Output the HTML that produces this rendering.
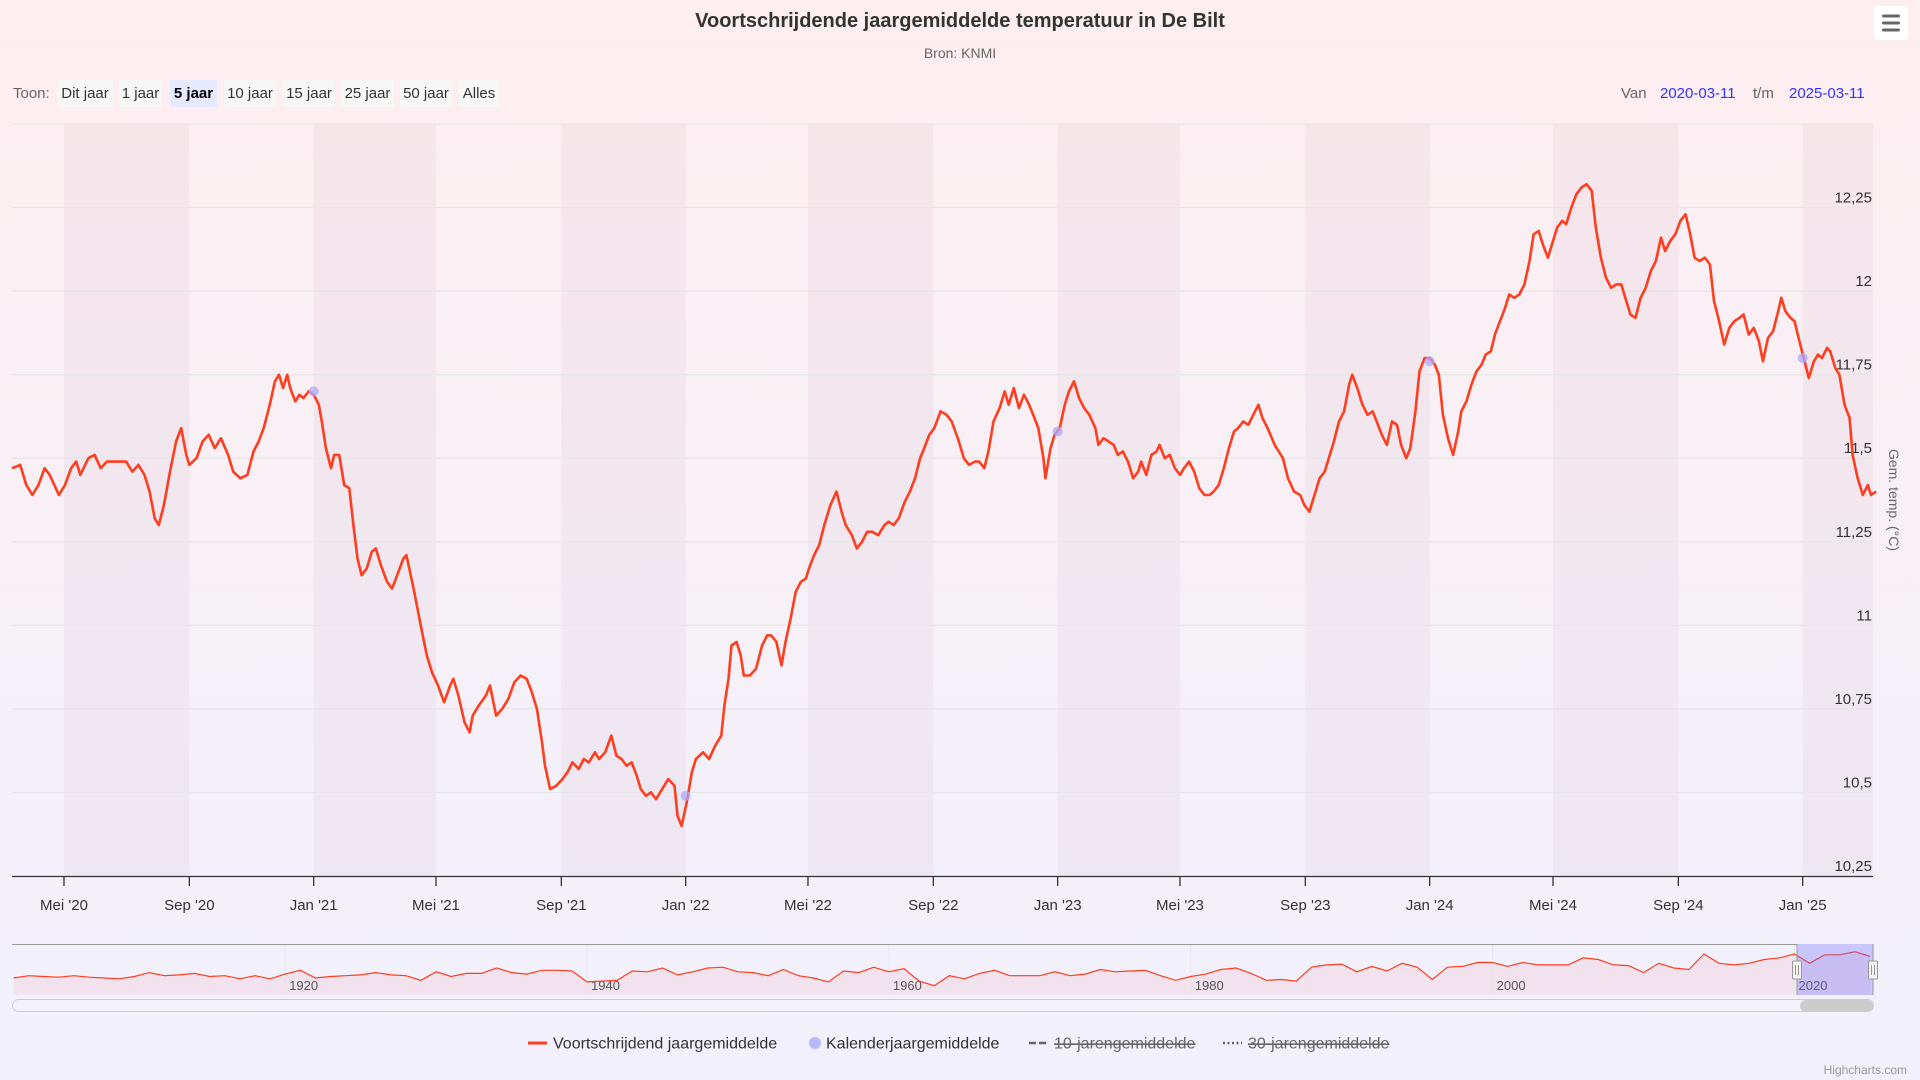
<!DOCTYPE html>
<html><head><meta charset="utf-8"><title>Voortschrijdende jaargemiddelde temperatuur in De Bilt</title>
<style>
html,body{margin:0;padding:0;width:1920px;height:1080px;overflow:hidden;}
body{background:linear-gradient(180deg,#fdeef0 0%,#f7f0f6 50%,#f1f0fc 100%);font-family:"Liberation Sans",sans-serif;}
svg{position:absolute;left:0;top:0;}
</style></head>
<body>
<svg id="chart" width="1920" height="1080" xmlns="http://www.w3.org/2000/svg"></svg>
<script>
// ===== data =====
const startDate = '2020-03-11';
const rollingDays = [0,8,14,20,26,32,37,46,52,58,63,67,75,81,87,93,99,105,112,118,124,130,135,140,144,149,155,161,166,171,174,181,187,193,199,205,212,217,224,231,237,242,247,253,258,262,266,270,273,278,282,286,291,296,301,304,308,313,316,321,326,331,335,339,343,348,353,357,362,368,373,378,384,387,394,401,407,412,418,424,430,433,438,444,449,452,458,465,469,475,481,487,493,499,505,510,515,520,523,528,534,540,545,550,556,561,566,572,576,582,588,593,598,603,608,613,617,622,627,632,638,644,650,653,657,662,667,671,678,684,690,696,699,703,706,711,715,718,724,730,736,741,745,750,755,759,764,769,774,779,782,787,792,797,803,809,814,818,824,829,834,839,844,850,856,860,865,870,876,881,886,891,895,900,905,911,917,922,928,934,939,945,949,954,958,963,969,974,978,983,988,993,998,1002,1007,1012,1014,1019,1023,1028,1033,1037,1042,1047,1052,1057,1063,1066,1071,1076,1081,1085,1090,1095,1100,1105,1108,1113,1118,1123,1126,1131,1136,1141,1146,1150,1155,1160,1165,1170,1175,1179,1184,1189,1194,1199,1203,1208,1213,1218,1223,1227,1232,1239,1247,1252,1258,1264,1268,1273,1278,1283,1288,1292,1297,1302,1307,1312,1315,1320,1325,1330,1335,1339,1344,1349,1354,1359,1363,1368,1372,1377,1381,1386,1391,1396,1400,1404,1409,1414,1419,1422,1427,1432,1437,1442,1446,1451,1455,1460,1465,1469,1474,1479,1484,1489,1493,1498,1502,1507,1511,1516,1521,1525,1530,1535,1540,1545,1550,1554,1559,1564,1569,1574,1579,1583,1588,1593,1598,1603,1608,1613,1618,1622,1627,1632,1637,1642,1646,1651,1656,1661,1666,1670,1675,1680,1685,1690,1695,1699,1704,1709,1714,1718,1723,1728,1733,1736,1740,1745,1749,1753,1758,1763,1768,1772,1776,1781,1784,1789,1793,1798,1803,1806,1811,1816,1821,1824,1829];
const rollingValues = [11.47,11.48,11.42,11.39,11.42,11.47,11.45,11.39,11.42,11.47,11.49,11.45,11.50,11.51,11.47,11.49,11.49,11.49,11.49,11.46,11.48,11.45,11.40,11.32,11.30,11.36,11.46,11.55,11.59,11.51,11.48,11.50,11.55,11.57,11.53,11.56,11.51,11.46,11.44,11.45,11.52,11.55,11.59,11.66,11.73,11.75,11.71,11.75,11.71,11.67,11.69,11.68,11.70,11.69,11.66,11.61,11.53,11.47,11.51,11.51,11.42,11.41,11.30,11.20,11.15,11.17,11.22,11.23,11.18,11.13,11.11,11.15,11.20,11.21,11.11,11.00,10.91,10.86,10.82,10.77,10.82,10.84,10.79,10.71,10.68,10.73,10.76,10.79,10.82,10.73,10.75,10.78,10.83,10.85,10.84,10.80,10.75,10.65,10.58,10.51,10.52,10.54,10.56,10.59,10.57,10.60,10.59,10.62,10.60,10.62,10.67,10.61,10.60,10.58,10.59,10.55,10.51,10.49,10.50,10.48,10.51,10.54,10.52,10.43,10.40,10.47,10.56,10.60,10.62,10.60,10.64,10.67,10.76,10.84,10.94,10.95,10.91,10.85,10.85,10.87,10.94,10.97,10.97,10.95,10.88,10.95,11.02,11.10,11.13,11.14,11.17,11.21,11.24,11.30,11.36,11.40,11.34,11.30,11.27,11.23,11.25,11.28,11.28,11.27,11.30,11.31,11.30,11.32,11.37,11.40,11.44,11.50,11.53,11.57,11.59,11.64,11.63,11.61,11.56,11.50,11.48,11.49,11.49,11.47,11.52,11.61,11.65,11.70,11.66,11.71,11.65,11.69,11.66,11.63,11.59,11.50,11.44,11.53,11.57,11.59,11.66,11.70,11.73,11.68,11.65,11.63,11.59,11.54,11.56,11.55,11.54,11.51,11.52,11.49,11.44,11.46,11.49,11.45,11.51,11.52,11.54,11.50,11.51,11.47,11.45,11.47,11.49,11.46,11.41,11.39,11.39,11.40,11.42,11.47,11.53,11.58,11.59,11.61,11.60,11.63,11.66,11.62,11.59,11.54,11.50,11.44,11.40,11.39,11.36,11.34,11.39,11.44,11.46,11.50,11.55,11.61,11.64,11.72,11.75,11.71,11.66,11.63,11.64,11.61,11.57,11.54,11.61,11.60,11.54,11.50,11.53,11.64,11.76,11.80,11.80,11.78,11.75,11.63,11.56,11.51,11.58,11.64,11.67,11.72,11.76,11.78,11.81,11.82,11.87,11.91,11.95,11.99,11.98,11.99,12.02,12.09,12.17,12.18,12.14,12.10,12.14,12.19,12.21,12.20,12.25,12.29,12.31,12.32,12.30,12.19,12.10,12.04,12.01,12.02,12.02,11.98,11.93,11.92,11.98,12.01,12.06,12.09,12.16,12.12,12.15,12.17,12.21,12.23,12.18,12.10,12.09,12.10,12.08,11.97,11.91,11.84,11.89,11.91,11.92,11.93,11.87,11.89,11.85,11.79,11.86,11.88,11.94,11.98,11.94,11.92,11.91,11.86,11.80,11.74,11.79,11.81,11.80,11.83,11.82,11.77,11.75,11.66,11.62,11.51,11.44,11.39,11.42,11.39,11.40];
const calendarDays = [296,661,1026,1391,1757];
const calendarValues = [11.70,10.49,11.58,11.79,11.80];
const yTicks = [10.25,10.5,10.75,11,11.25,11.5,11.75,12,12.25,12.5];
const yTickLabels = ['10,25','10,5','10,75','11','11,25','11,5','11,75','12','12,25',''];
const navStartYear = 1902;
const navValues = [8.6,8.9,8.8,8.7,8.9,8.7,8.6,8.5,8.8,
9.3,8.9,9.0,9.2,8.8,8.9,8.5,8.9,8.5,9.1,
9.6,8.6,8.8,8.9,9.0,9.3,9.0,8.9,8.3,9.4,
8.8,9.2,9.2,9.9,9.3,9.1,9.6,9.6,9.5,8.1,
8.2,8.3,9.5,9.4,9.9,9.0,9.4,9.9,10.0,9.4,
9.3,8.9,9.7,8.9,8.6,8.1,9.5,9.3,10.0,9.4,
9.8,8.2,7.6,8.9,8.5,9.2,9.6,8.9,8.9,8.9,
9.4,8.9,9.1,9.7,9.4,9.5,9.6,8.9,8.3,8.8,
9.1,9.7,9.9,9.2,8.3,8.4,8.2,10.0,10.3,10.4,
9.4,10.1,9.5,10.5,10.0,8.4,10.0,10.1,10.6,10.6,
10.1,10.6,10.3,10.3,10.3,11.2,11.0,10.3,10.2,9.3,
10.5,9.9,9.7,11.7,10.5,10.3,10.5,11.0,11.2,11.7,
10.5,11.6,11.6,12.0,11.4];
const navYearLabels = [1920,1940,1960,1980,2000,2020];
const monthNames = ['Jan','Feb','Mrt','Apr','Mei','Jun','Jul','Aug','Sep','Okt','Nov','Dec'];

// ===== layout =====
const NS='http://www.w3.org/2000/svg';
const svg=document.getElementById('chart');
const PL=12, PR=1873, PT=124, PB=876, totalDays=1826;
const yMin=10.25, yMax=12.5;
const NL=12, NR=1873, NT=944, NB=995, navX0=1901.9, navX1=2025.2, navYMin=6.4, navYMax=13.0;
function xScale(d){return PL+d*(PR-PL)/totalDays;}
function yScale(v){return PB-(v-yMin)*(PB-PT)/(yMax-yMin);}
function nxScale(yr){return NL+(yr-navX0)*(NR-NL)/(navX1-navX0);}
function nyScale(v){return NB-(v-navYMin)*(NB-NT)/(navYMax-navYMin);}
function mk(tag,attrs,parent){const e=document.createElementNS(NS,tag);for(const k in attrs)e.setAttribute(k,attrs[k]);(parent||svg).appendChild(e);return e;}
const t0=new Date(startDate+'T00:00:00Z').getTime();
function dayOf(y,m){return Math.round((Date.UTC(y,m,1)-t0)/86400000);}

// title
let e;
e=mk('text',{x:960,y:27,'text-anchor':'middle','font-size':20,'font-weight':'bold',fill:'#333'});
e.textContent='Voortschrijdende jaargemiddelde temperatuur in De Bilt';


e=mk('text',{x:960,y:58,'text-anchor':'middle','font-size':14,fill:'#666'});
e.textContent='Bron: KNMI';



// menu button
const menu=mk('g',{});


mk('rect',{x:1874,y:6,width:34,height:34,rx:3,fill:'#fff'},menu);
[16,23,30].forEach(yy=>mk('rect',{x:1882,y:yy-1.5,width:18,height:3,rx:1.5,fill:'#666'},menu));

// range selector
e=mk('text',{x:13,y:98,'font-size':15,fill:'#666'});e.textContent='Toon:';


const btns=[['Dit jaar',57,113],['1 jaar',119,162],['5 jaar',170,217],['10 jaar',224,276],['15 jaar',283,335],['25 jaar',341,394],['50 jaar',400,452],['Alles',459,499]];
btns.forEach((b,i)=>{
  const g=mk('g',{});
  
  
  const sel=i===2;
  mk('rect',{x:b[1],y:80,width:b[2]-b[1],height:27,rx:2,fill:sel?'#e6e9ff':'#f7f7f7'},g);
  const t=mk('text',{x:(b[1]+b[2])/2,y:98,'text-anchor':'middle','font-size':15,fill:sel?'#000':'#333','font-weight':sel?'bold':'normal'},g);
  t.textContent=b[0];
});
e=mk('text',{x:1621,y:98,'font-size':15,fill:'#666'});e.textContent='Van';


e=mk('text',{x:1660,y:98,'font-size':15,fill:'#3333ff'});e.textContent='2020-03-11';


e=mk('text',{x:1753,y:98,'font-size':15,fill:'#666'});e.textContent='t/m';


e=mk('text',{x:1789,y:98,'font-size':15,fill:'#3333ff'});e.textContent='2025-03-11';



// x ticks (Jan/Mei/Sep)
const ticks=[];
for(let y=2020;y<=2025;y++)for(const m of [0,4,8]){const d=dayOf(y,m);if(d>=0&&d<=totalDays)ticks.push({d:d,label:monthNames[m]+" '"+String(y).slice(2)});}
// plot bands (alternating)
for(let i=0;i<ticks.length;i+=2){
  const a=xScale(ticks[i].d), b=i+1<ticks.length?xScale(ticks[i+1].d):PR;
  e=mk('rect',{x:a,y:PT,width:b-a,height:PB-PT,fill:'rgba(150,90,120,0.055)'});
  
  
}
// y grid + labels
yTicks.forEach((v,i)=>{
  const y=yScale(v);
  e=mk('line',{x1:PL,x2:PR,y1:y,y2:y,stroke:'#e6e6e6','stroke-width':1.2});
  
  
  if(yTickLabels[i]){
    e=mk('text',{x:PR-1,y:y-5,'text-anchor':'end','font-size':15,fill:'#333'});
    e.textContent=yTickLabels[i];
    
    
  }
});
e=mk('text',{x:0,y:0,'font-size':14,fill:'#666','text-anchor':'middle',transform:'translate(1889,500) rotate(90)'});
e.textContent='Gem. temp. (°C)';


// x axis
e=mk('line',{x1:PL,x2:PR,y1:PB+0.5,y2:PB+0.5,stroke:'#333','stroke-width':1.3});


ticks.forEach(t=>{
  const x=xScale(t.d);
  e=mk('line',{x1:x,x2:x,y1:PB,y2:PB+10,stroke:'#333','stroke-width':1.3});
  
  
  e=mk('text',{x:x,y:910,'text-anchor':'middle','font-size':15,fill:'#333'});
  e.textContent=t.label;
  
  
});
// series line
let dstr='';
rollingDays.forEach((d,i)=>{dstr+=(i?'L':'M')+xScale(d).toFixed(1)+' '+yScale(rollingValues[i]).toFixed(1);});
e=mk('path',{d:dstr,fill:'none',stroke:'#ff3d1f','stroke-width':2.6,'stroke-linejoin':'round'});


// calendar dots
calendarDays.forEach((d,i)=>{
  e=mk('circle',{cx:xScale(d),cy:yScale(calendarValues[i]),r:5,fill:'rgba(170,170,255,0.75)'});
  
  
});

// navigator
const nav=mk('g',{});


let nd='';
navValues.forEach((v,i)=>{nd+=(i?'L':'M')+nxScale(navStartYear+i).toFixed(1)+' '+nyScale(v).toFixed(1);});
mk('path',{d:nd+'L'+nxScale(navStartYear+navValues.length-1)+' '+NB+'L'+nxScale(navStartYear)+' '+NB+'Z',fill:'rgba(240,200,215,0.35)',stroke:'none'},nav);
navYearLabels.forEach(yr=>{
  const x=nxScale(yr);
  mk('line',{x1:x,x2:x,y1:NT,y2:NB,stroke:'#e6e6e6'},nav);
  const t=mk('text',{x:x+4,y:990,'font-size':13,fill:'#555'},nav);
  t.textContent=String(yr);
  
  
});
mk('path',{d:nd,fill:'none',stroke:'#ff3d1f','stroke-width':1.2},nav);
mk('rect',{x:1797,y:NT,width:NR-1797,height:NB-NT,fill:'rgba(102,102,255,0.3)'},nav);
mk('line',{x1:NL,x2:1797,y1:NT+0.5,y2:NT+0.5,stroke:'#999','stroke-width':1},nav);
mk('line',{x1:1797,x2:1797,y1:NT,y2:NB,stroke:'#999','stroke-width':1},nav);
mk('line',{x1:NR,x2:NR,y1:NT,y2:NB,stroke:'#999','stroke-width':1},nav);
[1797,NR].forEach(x=>{
  const h=mk('g',{},nav);
  
  
  mk('rect',{x:x-4.5,y:961,width:9,height:18,rx:1,fill:'#f2f2f2',stroke:'#999'},h);
  mk('line',{x1:x-1.5,x2:x-1.5,y1:965,y2:975,stroke:'#999'},h);
  mk('line',{x1:x+1.5,x2:x+1.5,y1:965,y2:975,stroke:'#999'},h);
});
// scrollbar
e=mk('rect',{x:NL+0.5,y:999.5,width:NR-NL,height:12,rx:6,fill:'#f4f3fb',stroke:'#ccc'});


e=mk('rect',{x:1800,y:1000,width:NR-1800,height:12,rx:6,fill:'#cccccc'});



// legend
function legendItem(name,x,sym,txt,hidden){
  const g=mk('g',{});
  
  
  if(sym==='line')mk('line',{x1:x,x2:x+19,y1:1043,y2:1043,stroke:'#ff3d1f','stroke-width':3},g);
  if(sym==='dot')mk('circle',{cx:x+6,cy:1043,r:6,fill:'rgba(170,170,255,0.8)'},g);
  if(sym==='dash')mk('line',{x1:x,x2:x+19,y1:1043,y2:1043,stroke:'#666','stroke-width':2.5,'stroke-dasharray':'7 3'},g);
  if(sym==='dot3')mk('line',{x1:x,x2:x+19,y1:1043,y2:1043,stroke:'#666','stroke-width':2.5,'stroke-dasharray':'2 2.5'},g);
  const tx=mk('text',{x:x+(sym==='dot'?17:25),y:1048.5,'font-size':16,fill:hidden?'#666':'#333','text-decoration':hidden?'line-through':'none'},g);
  tx.textContent=txt;
}
legendItem('legend-rolling-mean',528,'line','Voortschrijdend jaargemiddelde',false);
legendItem('legend-calendar-mean',809,'dot','Kalenderjaargemiddelde',false);
legendItem('legend-10-year-mean',1029,'dash','10-jarengemiddelde',true);
legendItem('legend-30-year-mean',1223,'dot3','30-jarengemiddelde',true);
e=mk('text',{x:1907,y:1074,'text-anchor':'end','font-size':12,fill:'#999'});
e.textContent='Highcharts.com';


</script>
</body></html>
